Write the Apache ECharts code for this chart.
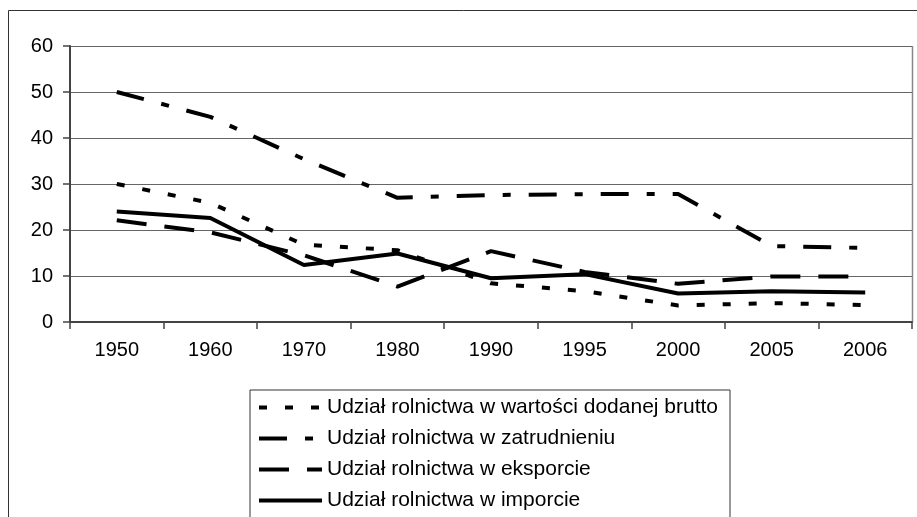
<!DOCTYPE html>
<html>
<head>
<meta charset="utf-8">
<script src="https://cdn.jsdelivr.net/npm/echarts@6/dist/echarts.min.js"></script>
<style>
html, body { margin: 0; padding: 0; background: #fff; }
#chart { width: 917px; height: 517px; }
</style>
</head>
<body>
<div id="chart"></div>
<script>
// lata (oś X)
var years = ['1950', '1960', '1970', '1980', '1990', '1995', '2000', '2005', '2006'];
// udział rolnictwa w wartości dodanej brutto
var wartoscDodana = [30, 25.9, 16.8, 15.6, 8.4, 6.7, 3.6, 4.1, 3.7];
// udział rolnictwa w zatrudnieniu
var zatrudnienie = [50, 44.6, 35.4, 27, 27.6, 27.8, 27.8, 16.5, 16.1];
// udział rolnictwa w eksporcie
var eksport = [22.1, 19.5, 14.5, 7.7, 15.4, 10.9, 8.3, 9.9, 9.9];
// udział rolnictwa w imporcie
var import_ = [24, 22.6, 12.4, 14.9, 9.5, 10.4, 6.2, 6.7, 6.4];
var yTicks = [0, 10, 20, 30, 40, 50, 60];

var names = [
	'Udział rolnictwa w wartości dodanej brutto',
	'Udział rolnictwa w zatrudnieniu',
	'Udział rolnictwa w eksporcie',
	'Udział rolnictwa w imporcie'
];

var myChart = echarts.init(document.getElementById('chart'));

function makeSeries(name, data, dash) {
	return {
		name: name,
		type: 'line',
		data: data,
		symbol: 'none',
		animation: false,
		lineStyle: {
			color: '#000',
			width: 4,
			type: dash
		}
	};
}

var option = {
	backgroundColor: '#fff',
	animation: false,
	textStyle: { fontFamily: 'Liberation Sans, Arial, sans-serif' },
	graphic: [{
		// ramka całego wykresu
		type: 'rect',
		shape: { x: 8.5, y: 10.5, width: 930, height: 530 },
		style: { fill: 'none', stroke: '#333', lineWidth: 1 },
		silent: true,
		z: -1
	}, {
		// prawa krawędź obszaru wykresu
		type: 'line',
		shape: { x1: 912.5, y1: 46, x2: 912.5, y2: 322 },
		style: { stroke: '#888', lineWidth: 1.5 },
		silent: true
	}],
	grid: {
		left: 70,
		top: 46,
		right: 5,
		bottom: 195,
		containLabel: false
	},
	legend: {
		orient: 'vertical',
		left: 250,
		top: 390,
		height: 200,
		padding: [7, 12, 40, 7],
		borderColor: '#333',
		borderWidth: 1,
		itemWidth: 63,
		itemHeight: 14,
		itemGap: 10,
		itemStyle: { opacity: 0 },
		lineStyle: { width: 4 },
		textStyle: {
			fontSize: 21,
			lineHeight: 21,
			color: '#000',
			fontFamily: 'Liberation Sans, Arial, sans-serif'
		},
		data: names
	},
	xAxis: {
		type: 'category',
		data: years,
		boundaryGap: true,
		axisLine: { lineStyle: { color: '#444', width: 2 } },
		axisTick: { show: true, length: 7, lineStyle: { color: '#444', width: 1.5 } },
		axisLabel: { color: '#000', fontSize: 20, margin: 18 }
	},
	yAxis: {
		type: 'value',
		min: yTicks[0],
		max: yTicks[yTicks.length - 1],
		interval: 10,
		axisLine: { show: true, lineStyle: { color: '#444', width: 2 } },
		axisTick: { show: true, length: 7, lineStyle: { color: '#444', width: 1.5 } },
		axisLabel: { color: '#000', fontSize: 20, margin: 17 },
		splitLine: { show: true, lineStyle: { color: '#666', width: 1 } }
	},
	series: [
		makeSeries(names[0], wartoscDodana, [8, 18]),
		makeSeries(names[1], zatrudnienie, [28, 18, 8, 18]),
		makeSeries(names[2], eksport, [30, 18]),
		makeSeries(names[3], import_, 'solid')
	]
};
myChart.setOption(option);
</script>
</body>
</html>
